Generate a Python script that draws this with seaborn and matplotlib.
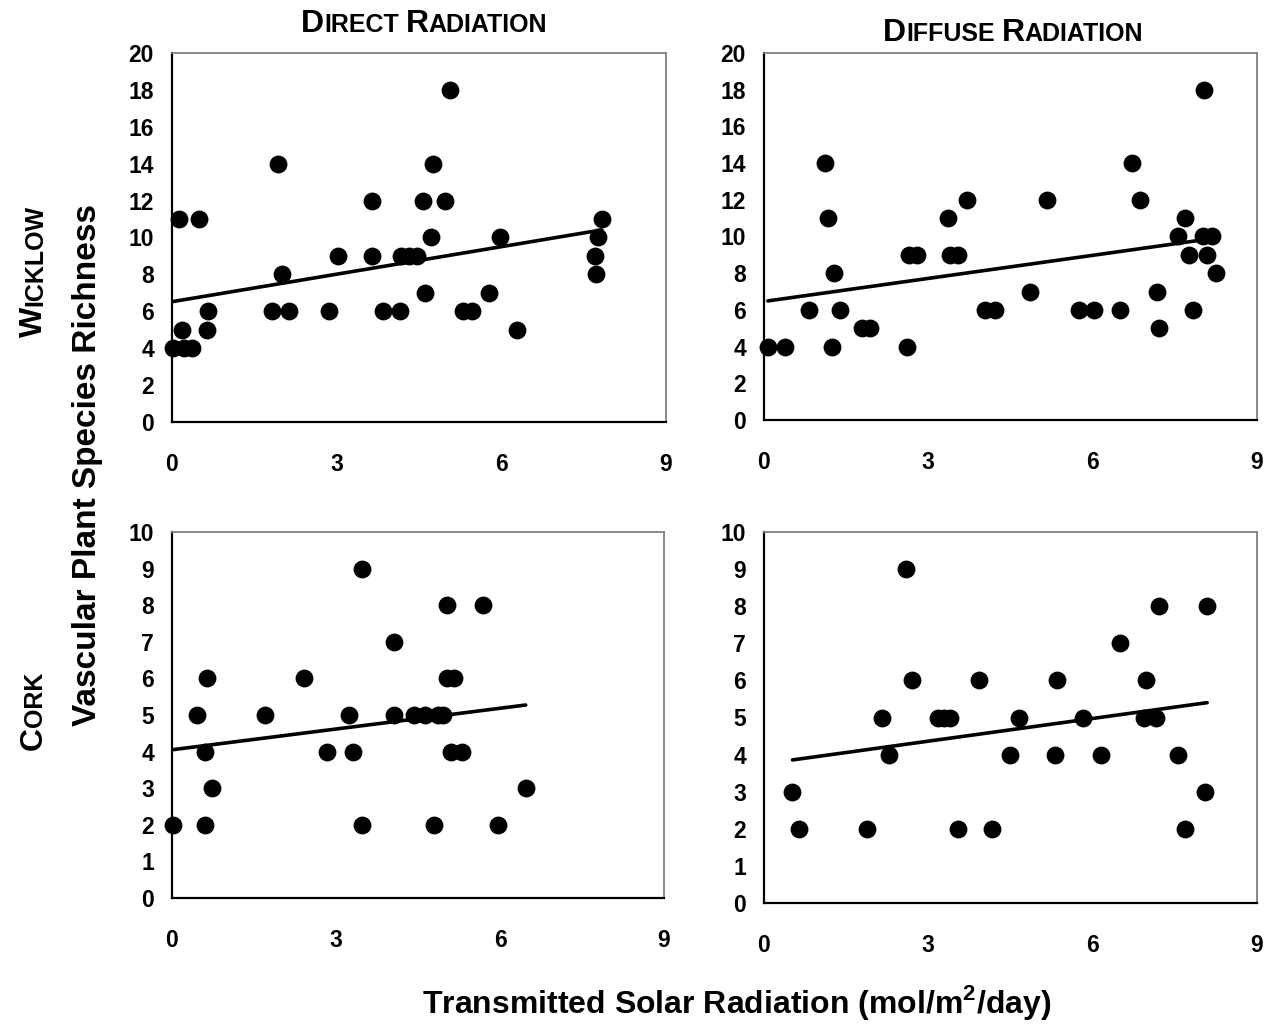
import numpy as np
import pandas as pd
import matplotlib
matplotlib.use("Agg")
import matplotlib.pyplot as plt
import seaborn as sns

# ---- data: transmitted radiation (mol/m2/day) vs species richness ----
direct_wicklow_x = [0.02, 0.22, 0.36, 0.18, 0.12, 0.50, 0.66, 0.63, 1.93, 2.00,
                    1.83, 2.14, 2.86, 3.03, 3.64, 3.64, 3.85, 4.16, 4.18, 4.32,
                    4.47, 4.58, 4.61, 4.75, 4.72, 4.98, 5.06, 5.30, 5.47, 5.78,
                    5.98, 6.29, 7.83, 7.77, 7.70, 7.73]
direct_wicklow_y = [4, 4, 4, 5, 11, 11, 6, 5, 14, 8,
                    6, 6, 6, 9, 12, 9, 6, 6, 9, 9,
                    9, 12, 7, 14, 10, 12, 18, 6, 6, 7,
                    10, 5, 11, 10, 9, 8]

diffuse_wicklow_x = [0.07, 0.39, 0.83, 1.11, 1.17, 1.28, 1.24, 1.38, 1.78, 1.94,
                     2.61, 2.64, 2.79, 3.36, 3.39, 3.55, 3.70, 4.04, 4.22, 4.86,
                     5.16, 5.75, 6.02, 6.50, 6.71, 6.87, 7.18, 7.22, 7.56, 7.69,
                     7.76, 7.84, 8.03, 8.02, 8.18, 8.08, 8.26]
diffuse_wicklow_y = [4, 4, 6, 14, 11, 8, 4, 6, 5, 5,
                     4, 9, 9, 11, 9, 9, 12, 6, 6, 7,
                     12, 6, 6, 6, 14, 12, 7, 5, 10, 11,
                     9, 6, 18, 10, 10, 9, 8]

direct_cork_x = [0.01, 0.46, 0.64, 0.60, 0.74, 0.60, 1.70, 2.42, 2.83, 3.24,
                 3.31, 3.48, 3.48, 4.07, 4.07, 4.42, 4.62, 4.86, 4.95, 4.79,
                 5.03, 5.03, 5.16, 5.11, 5.31, 5.69, 5.96, 6.47]
direct_cork_y = [2, 5, 6, 4, 3, 2, 5, 6, 4, 5,
                 4, 9, 2, 7, 5, 5, 5, 5, 5, 2,
                 8, 6, 6, 4, 4, 8, 2, 3]

diffuse_cork_x = [0.52, 0.63, 1.88, 2.15, 2.29, 2.59, 2.70, 3.18, 3.29, 3.39,
                  3.55, 3.92, 4.16, 4.49, 4.66, 5.31, 5.34, 5.82, 6.15, 6.50,
                  6.97, 6.93, 7.15, 7.21, 7.55, 7.68, 8.05, 8.09]
diffuse_cork_y = [3, 2, 2, 5, 4, 9, 6, 5, 5, 5,
                  2, 6, 2, 4, 5, 4, 6, 5, 4, 7,
                  6, 5, 5, 8, 4, 2, 3, 8]

# fitted linear trends (intercept, slope), one per panel:
# direct/Wicklow, diffuse/Wicklow, direct/Cork, diffuse/Cork
trend_intercepts = [6.52, 6.46, 4.05, 3.75]
trend_slopes = [0.497, 0.419, 0.189, 0.204]

x_ticks = [0, 3, 6, 9]
wicklow_y_ticks = list(range(0, 21, 2))
cork_y_ticks = list(range(0, 11, 1))

column_titles = ["Direct Radiation", "Diffuse Radiation"]
row_titles = ["Wicklow", "Cork"]
y_label = "Vascular Plant Species Richness"
x_label = r"Transmitted Solar Radiation (mol/m$^{\mathbf{2}}$/day)"

# ---- style ----
sns.set_theme(style="white")
plt.rcParams["font.family"] = ["Liberation Sans", "DejaVu Sans"]
plt.rcParams["font.weight"] = "bold"
plt.rcParams["text.color"] = "black"
plt.rcParams["axes.labelcolor"] = "black"
plt.rcParams["xtick.color"] = "black"
plt.rcParams["ytick.color"] = "black"
plt.rcParams["mathtext.fontset"] = "custom"
plt.rcParams["mathtext.rm"] = "Liberation Sans:bold"
plt.rcParams["mathtext.bf"] = "Liberation Sans:bold"

W, H = 1282, 1025
fig = plt.figure(figsize=(W / 100, H / 100), dpi=100)


def px_axes(left, top, right, bottom):
    return fig.add_axes([left / W, 1 - bottom / H, (right - left) / W, (bottom - top) / H])


panels = [
    (px_axes(172, 53, 666, 422), direct_wicklow_x, direct_wicklow_y, wicklow_y_ticks),
    (px_axes(764, 53, 1257, 420), diffuse_wicklow_x, diffuse_wicklow_y, wicklow_y_ticks),
    (px_axes(172, 532, 664, 898), direct_cork_x, direct_cork_y, cork_y_ticks),
    (px_axes(764, 532, 1257, 903), diffuse_cork_x, diffuse_cork_y, cork_y_ticks),
]

for (ax, xs, ys, yticks), b0, b1 in zip(panels, trend_intercepts, trend_slopes):
    df = pd.DataFrame({"radiation": xs, "richness": ys})
    # trend line spans the observed radiation range
    span = np.array([min(xs), max(xs)])
    trend = pd.DataFrame({"radiation": span, "richness": b0 + b1 * span})
    sns.lineplot(data=trend, x="radiation", y="richness", ax=ax,
                 color="black", lw=2.6, zorder=2)
    sns.scatterplot(data=df, x="radiation", y="richness", ax=ax,
                    color="black", s=165, linewidth=0, clip_on=False, zorder=3)
    ax.set_xlim(0, 9)
    ax.set_ylim(yticks[0], yticks[-1])
    ax.set_xticks(x_ticks)
    ax.set_yticks(yticks)
    ax.set_xlabel("")
    ax.set_ylabel("")
    ax.tick_params(axis="y", direction="in", length=6, width=1, color="#808080",
                   labelcolor="black", pad=13, labelsize=16.5)
    ax.tick_params(axis="x", direction="inout", length=12, width=1.5, color="black",
                   labelcolor="black", pad=16, labelsize=16.5)
    for lab in ax.get_xticklabels() + ax.get_yticklabels():
        lab.set_fontweight("bold")
    for side in ("left", "bottom"):
        ax.spines[side].set_color("black")
        ax.spines[side].set_linewidth(1.6)
    for side in ("top", "right"):
        ax.spines[side].set_color("#808080")
        ax.spines[side].set_linewidth(1.3)
    ax.set_facecolor("white")

renderer = fig.canvas.get_renderer()


def small_caps(text, centre, base, big=23, small=18, rotation=0):
    """Draw text in small capitals centred on `centre` (pixels) with its baseline at `base`.

    Horizontal text: centre is measured from the left, base from the top.
    Rotated text: centre is measured from the bottom, base from the left.
    """
    runs = []
    for i, word in enumerate(text.split(" ")):
        if i:
            runs.append((" ", small))
        runs.append((word[0].upper(), big))
        runs.append((word[1:].upper(), small))
    widths = []
    for s, size in runs:
        probe = fig.text(0, 0, s, fontsize=size, fontweight="bold")
        widths.append(probe.get_window_extent(renderer).width)
        probe.remove()
    cursor = centre - sum(widths) / 2
    for (s, size), w in zip(runs, widths):
        if rotation == 0:
            fig.text(cursor / W, 1 - base / H, s, fontsize=size, fontweight="bold",
                     ha="left", va="baseline", rotation_mode="anchor")
        else:
            fig.text(base / W, cursor / H, s, fontsize=size, fontweight="bold",
                     ha="left", va="baseline", rotation=90, rotation_mode="anchor")
        cursor += w


# column titles above each column
small_caps(column_titles[0], 424, 32.5)
small_caps(column_titles[1], 1013, 41)
# row titles, rotated
small_caps(row_titles[0], H - 271, 42, rotation=90)
small_caps(row_titles[1], H - 711, 42, rotation=90)

fig.text(88 / W, 1 - 465 / H, y_label, rotation=90, fontsize=24,
         fontweight="bold", ha="center", va="center")
fig.text(737 / W, 1 - 1002 / H, x_label, fontsize=23,
         fontweight="bold", ha="center", va="center")

fig.savefig("out.png", dpi=100, facecolor="white")
